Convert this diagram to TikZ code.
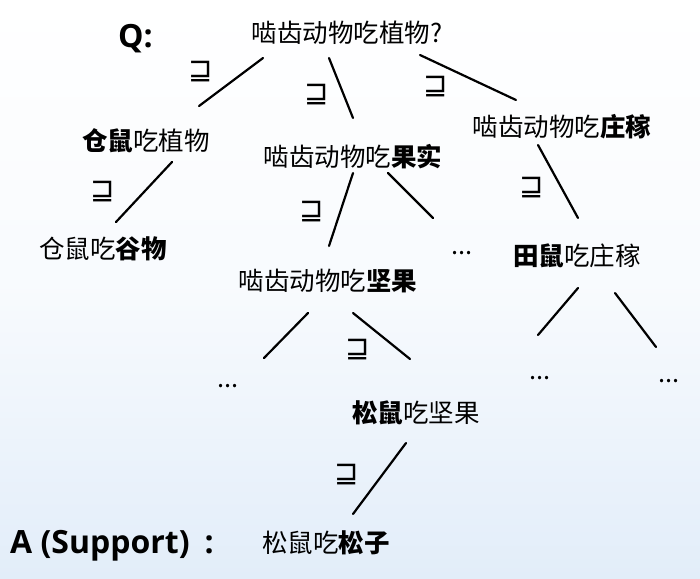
\documentclass[tikz,border=0pt]{standalone}
\usepackage{fontspec}
\setmainfont{Open Sans}
\newfontfamily\cjk{Noto Sans CJK SC}
\newfontfamily\symfont{DejaVu Sans}
\definecolor{bgblue}{RGB}{226,237,249}

\begin{document}
\begin{tikzpicture}[x=1pt,y=-1pt,
    term/.style={font=\cjk\fontsize{25.5}{26}\selectfont,inner sep=0pt,text height=22pt,text depth=3pt},
    head/.style={font=\bfseries\fontsize{32}{32}\selectfont,inner sep=0pt,anchor=base west},
    rel/.style={font=\symfont\fontsize{29}{29}\selectfont,inner sep=0pt},
    link/.style={line width=2.2pt,line cap=round}
    ]

    \useasboundingbox (0,0) rectangle (700,578);
    \fill[top color=white,bottom color=bgblue,middle color=white!75!bgblue] (0,0) rectangle (700,578);

    % headings
    \node(q) [head] at (118,48) {Q:};
    \node(a) [head] at (10,553) {A (Support)\hspace{15pt}:};

    % tree
    \node(root) [term] at (347,33) {啮齿动物吃植物?};
    \node(cs) [term] at (146,141) {{\bfseries 仓鼠}吃植物};
    \node(gs) [term] at (353,157) {啮齿动物吃{\bfseries 果实}};
    \node(zj) [term] at (562,127) {啮齿动物吃{\bfseries 庄稼}};
    \node(gw) [term] at (103,249) {仓鼠吃{\bfseries 谷物}};
    \node(jg) [term] at (328,281) {啮齿动物吃{\bfseries 坚果}};
    \node(tian) [term] at (577,256) {{\bfseries 田鼠}吃庄稼};
    \node(ss) [term] at (416,413) {{\bfseries 松鼠}吃坚果};
    \node(sz) [term] at (326,543) {松鼠吃{\bfseries 松子}};

    \node(d1) [term] at (462,245) {...};
    \node(d2) [term] at (228,378) {...};
    \node(d3) [term] at (540,370) {...};
    \node(d4) [term] at (669,373) {...};

    % branches
    \draw[link] ([shift={(-84,25)}]root.center) -- ([shift={(53,-35)}]cs.center);
    \draw[link] ([shift={(-18,25)}]root.center) -- ([shift={(0,-39)}]gs.center);
    \draw[link] ([shift={(73,22)}]root.center) -- ([shift={(-46,-27)}]zj.center);
    \draw[link] ([shift={(-24,18)}]zj.center) -- ([shift={(1,-38)}]tian.center);
    \draw[link] ([shift={(26,21)}]cs.center) -- ([shift={(13,-27)}]gw.center);
    \draw[link] ([shift={(0,16)}]gs.center) -- ([shift={(1,-35)}]jg.center);
    \draw[link] ([shift={(35,16)}]gs.center) -- ([shift={(-29,-27)}]d1.center);
    \draw[link] ([shift={(-20,32)}]jg.center) -- ([shift={(36,-20)}]d2.center);
    \draw[link] ([shift={(25,32)}]jg.center) -- ([shift={(-6,-54)}]ss.center);
    \draw[link] ([shift={(1,32)}]tian.center) -- ([shift={(-2,-35)}]d3.center);
    \draw[link] ([shift={(38,37)}]tian.center) -- ([shift={(-13,-26)}]d4.center);
    \draw[link] ([shift={(-10,30)}]ss.center) -- ([shift={(27,-29)}]sz.center);

    % order marks
    \node(r1) [rel] at (201,72) {⊒};
    \node(r2) [rel] at (317,95) {⊒};
    \node(r3) [rel] at (436,87) {⊒};
    \node(r4) [rel] at (532,188) {⊒};
    \node(r5) [rel] at (103,192) {⊒};
    \node(r6) [rel] at (312,212) {⊒};
    \node(r7) [rel] at (358,350) {⊒};
    \node(r8) [rel] at (347,475) {⊒};

\end{tikzpicture}
\end{document}
